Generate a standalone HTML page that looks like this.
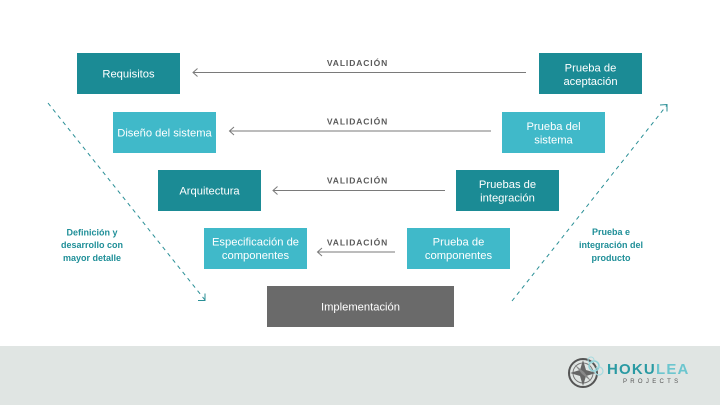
<!DOCTYPE html>
<html>
<head>
<meta charset="utf-8">
<style>
  html,body{margin:0;padding:0;background:#fff;}
  body{width:720px;height:405px;overflow:hidden;}
  svg{display:block;}
  .bt{font-family:"Liberation Sans",sans-serif;font-size:11.2px;fill:#fff;text-anchor:middle;}
  .val{font-family:"Liberation Sans",sans-serif;font-size:8.5px;font-weight:bold;fill:#5a5a5a;letter-spacing:0.9px;text-anchor:middle;}
  .side{font-family:"Liberation Sans",sans-serif;font-size:9px;font-weight:bold;fill:#1f8f98;text-anchor:middle;}
</style>
</head>
<body>
<svg width="720" height="405" viewBox="0 0 720 405" xmlns="http://www.w3.org/2000/svg">
  <rect x="0" y="0" width="720" height="405" fill="#ffffff"/>
  <!-- footer -->
  <rect x="0" y="346" width="720" height="59" fill="#e0e5e3"/>

  <!-- Left column boxes -->
  <rect x="77" y="53" width="103" height="41" fill="#1b8b95"/>
  <text class="bt" x="128.5" y="77.5">Requisitos</text>

  <rect x="113" y="112" width="103" height="41" fill="#40b9c9"/>
  <text class="bt" x="164.5" y="136.5">Diseño del sistema</text>

  <rect x="158" y="170" width="103" height="41" fill="#1b8b95"/>
  <text class="bt" x="209.5" y="194.5">Arquitectura</text>

  <rect x="204" y="228" width="103" height="41" fill="#40b9c9"/>
  <text class="bt" x="255.5" y="245.5">Especificación de</text>
  <text class="bt" x="255.5" y="259">componentes</text>

  <!-- Right column boxes -->
  <rect x="539" y="53" width="103" height="41" fill="#1b8b95"/>
  <text class="bt" x="590.5" y="71.5">Prueba de</text>
  <text class="bt" x="590.5" y="85">aceptación</text>

  <rect x="502" y="112" width="103" height="41" fill="#40b9c9"/>
  <text class="bt" x="553.5" y="130">Prueba del</text>
  <text class="bt" x="553.5" y="143.5">sistema</text>

  <rect x="456" y="170" width="103" height="41" fill="#1b8b95"/>
  <text class="bt" x="507.5" y="188">Pruebas de</text>
  <text class="bt" x="507.5" y="201.5">integración</text>

  <rect x="407" y="228" width="103" height="41" fill="#40b9c9"/>
  <text class="bt" x="458.5" y="245.5">Prueba de</text>
  <text class="bt" x="458.5" y="259">componentes</text>

  <!-- Implementación -->
  <rect x="267" y="286" width="187" height="41" fill="#6a6a6a"/>
  <text class="bt" x="360.5" y="310.5">Implementación</text>

  <!-- Validation arrows -->
  <g stroke="#7a7a7a" stroke-width="1" fill="none">
    <line x1="193" y1="72.5" x2="526" y2="72.5"/>
    <polyline points="197.5,68.5 193,72.5 197.5,76.5"/>
    <line x1="229.5" y1="131" x2="491" y2="131"/>
    <polyline points="234,127 229.5,131 234,135"/>
    <line x1="273" y1="190.5" x2="445" y2="190.5"/>
    <polyline points="277.5,186.5 273,190.5 277.5,194.5"/>
    <line x1="317.5" y1="252" x2="395" y2="252"/>
    <polyline points="322,248 317.5,252 322,256"/>
  </g>
  <text class="val" x="357.5" y="66">VALIDACIÓN</text>
  <text class="val" x="357.5" y="124.7">VALIDACIÓN</text>
  <text class="val" x="357.5" y="183.5">VALIDACIÓN</text>
  <text class="val" x="357.5" y="245.5">VALIDACIÓN</text>

  <!-- Dashed diagonal arrows -->
  <g stroke="#2a8f96" stroke-width="1" fill="none">
    <line x1="48" y1="103" x2="205" y2="300" stroke-dasharray="4,4"/>
    <polyline points="198,300.5 205,300.5 205,293.5"/>
    <line x1="512" y1="301" x2="667" y2="105" stroke-dasharray="4,4"/>
    <polyline points="660,105 667,104.5 667,111.5"/>
  </g>

  <!-- Side labels -->
  <text class="side" x="92" y="235.5">Definición y</text>
  <text class="side" x="92" y="248">desarrollo con</text>
  <text class="side" x="92" y="261">mayor detalle</text>

  <text class="side" x="611" y="235">Prueba e</text>
  <text class="side" x="611" y="248">integración del</text>
  <text class="side" x="611" y="261">producto</text>

  <!-- Logo -->
  <g>
    <circle cx="583" cy="373" r="14" fill="none" stroke="#555" stroke-width="2"/>
    <circle cx="583" cy="373" r="10" fill="none" stroke="#777" stroke-width="1"/>
    <polygon points="583,360 586,370 596,373 586,376 583,386 580,376 570,373 580,370" fill="#666"/>
    <polygon points="574,364 584,372 592,382 582,374" fill="#888"/>
    <circle cx="594" cy="366" r="5" fill="none" stroke="#8fd0d6" stroke-width="1.5"/>
    <circle cx="599" cy="371" r="4" fill="none" stroke="#a6dbe0" stroke-width="1.2"/>
    <circle cx="591" cy="360" r="3" fill="none" stroke="#a6dbe0" stroke-width="1"/>
  </g>
  <text x="607" y="374" font-family="Liberation Sans, sans-serif" font-size="15" font-weight="bold" letter-spacing="1.2"><tspan fill="#2a9aa3">HOKU</tspan><tspan fill="#6cc6cf">LEA</tspan></text>
  <text x="623" y="383" font-family="Liberation Sans, sans-serif" font-size="6" fill="#555" letter-spacing="3.3">PROJECTS</text>
</svg>
</body>
</html>
